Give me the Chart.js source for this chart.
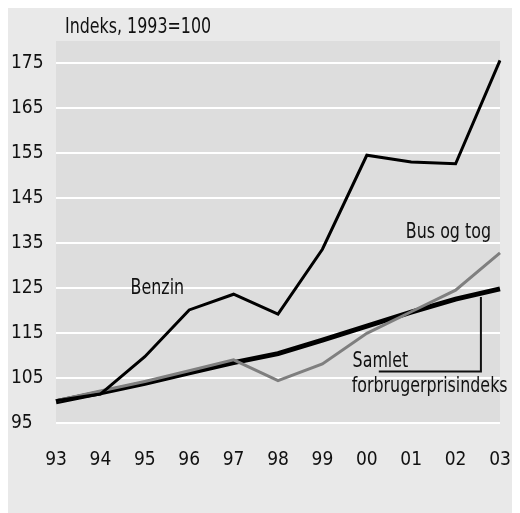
<!DOCTYPE html>
<html>
<head>
<meta charset="utf-8">
<script src="https://cdn.jsdelivr.net/npm/chart.js@4/dist/chart.umd.min.js"></script>
<style>
  body { margin: 0; background: #fff; }
  #panel { position: absolute; left: 8px; top: 8px; width: 504px; height: 505px; background: #e9e9e9; }
</style>
</head>
<body>
<div id="panel"><canvas id="prisChart" width="504" height="505"></canvas></div>
<script>
// data
const years = ["93","94","95","96","97","98","99","00","01","02","03"];
const benzin = [100, 101.5, 109.8, 120.2, 123.7, 119.3, 133.7, 154.6, 153.1, 152.7, 175.7];
const busOgTog = [100, 102.2, 104.3, 106.7, 109.1, 104.5, 108.2, 115.0, 119.8, 124.6, 132.9];
const samlet = [99.8, 101.8, 103.9, 106.2, 108.5, 110.5, 113.5, 116.6, 119.7, 122.6, 124.9];
const yTicks = [95, 105, 115, 125, 135, 145, 155, 165, 175];

const FONT = "'DejaVu Sans Condensed', 'Liberation Sans Narrow', sans-serif";
const SQUEEZE = 0.84;   // the original type is narrower than anything installed

// text labels, anchored in data units [x index, y value]
const lineLabels = [
    { text: "Benzin", x: 1.68, y: 123.7 },
    { text: "Bus og tog", x: 7.88, y: 136.3 },
    { text: "Samlet", x: 6.68, y: 107.6 },
    { text: "forbrugerprisindeks", x: 6.66, y: 101.9 }
];
// leader from the label to the total CPI line
const leader = [[7.27, 106.5], [9.57, 106.5], [9.57, 123.1]];

function squeezedText(ctx, text, x, y) {
    ctx.save();
    ctx.translate(x, y);
    ctx.scale(SQUEEZE, 1);
    ctx.fillText(text, 0, 0);
    ctx.restore();
}

const decorPlugin = {
    id: "decor",
    beforeDraw(chart) {
        const a = chart.chartArea, ctx = chart.ctx;
        ctx.save();
        ctx.fillStyle = "#dddddd";
        ctx.fillRect(a.left, a.top, a.right - a.left, a.bottom - a.top);
        ctx.restore();
    },
    afterDraw(chart) {
        const ctx = chart.ctx, xs = chart.scales.x, ys = chart.scales.y, a = chart.chartArea;
        ctx.save();
        ctx.fillStyle = "#111";
        ctx.textBaseline = "alphabetic";
        ctx.font = "21px " + FONT;
        squeezedText(ctx, "Indeks, 1993=100", a.left + 9, a.top - 8);
        lineLabels.forEach(l => {
            squeezedText(ctx, l.text, xs.getPixelForValue(l.x), ys.getPixelForValue(l.y));
        });
        ctx.strokeStyle = "#111";
        ctx.lineWidth = 2;
        ctx.beginPath();
        leader.forEach((p, i) => {
            const px = xs.getPixelForValue(p[0]), py = ys.getPixelForValue(p[1]);
            if (i == 0) ctx.moveTo(px, py); else ctx.lineTo(px, py);
        });
        ctx.stroke();
        ctx.restore();
    }
};

new Chart("prisChart", {
    type: "line",
    data: {
        labels: years,
        datasets: [{
            label: "Benzin",
            data: benzin,
            borderColor: "#000",
            borderWidth: 3
        }, {
            label: "Bus og tog",
            data: busOgTog,
            borderColor: "#7f7f7f",
            borderWidth: 3
        }, {
            label: "Samlet forbrugerprisindeks",
            data: samlet,
            borderColor: "#000",
            borderWidth: 5
        }]
    },
    options: {
        responsive: false,
        animation: false,
        layout: { padding: { left: 3, top: 33, right: 12, bottom: 0 } },
        elements: { point: { radius: 0 }, line: { tension: 0 } },
        plugins: { legend: { display: false }, tooltip: { enabled: false } },
        scales: {
            x: {
                offset: false,
                grid: { display: false, drawTicks: false },
                border: { display: false },
                ticks: { color: "#111", font: { family: FONT, size: 19 }, padding: 25, maxRotation: 0 },
                afterFit(scale) {
                    scale.height = 89.7;
                    scale.paddingLeft = 0;
                    scale.paddingRight = 0;
                }
            },
            y: {
                min: 95,
                max: 180,
                afterBuildTicks(scale) { scale.ticks = yTicks.map(v => ({ value: v })); },
                grid: { color: "#ffffff", lineWidth: 2, drawTicks: false },
                border: { display: false },
                ticks: { color: "#111", font: { family: FONT, size: 19 }, crossAlign: "far", padding: 0 },
                afterFit(scale) { scale.width = 45; }
            }
        }
    },
    plugins: [decorPlugin]
});
</script>
</body>
</html>
